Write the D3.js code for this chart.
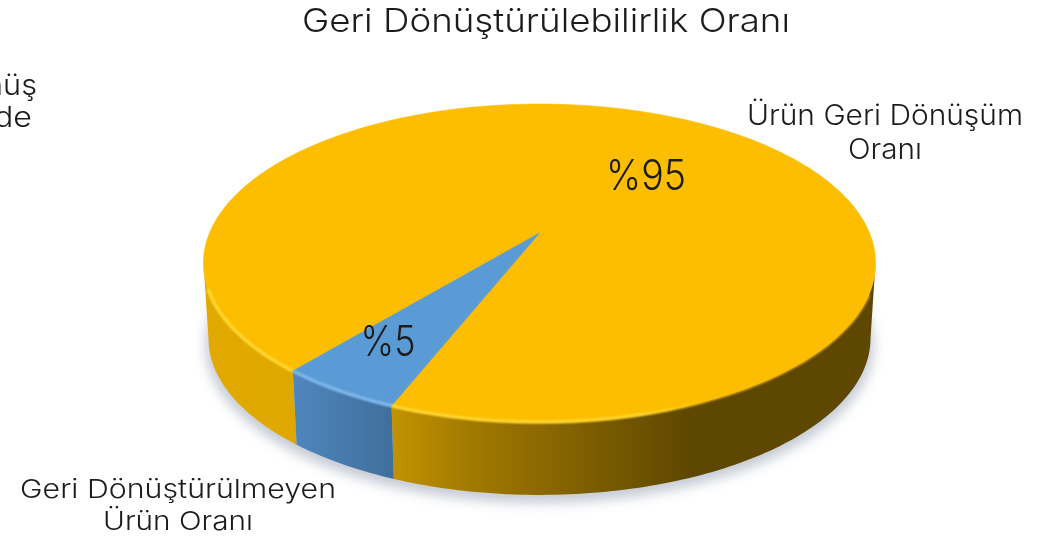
<!DOCTYPE html>
<html><head><meta charset="utf-8">
<script src="https://cdn.jsdelivr.net/npm/d3@7"></script>
<style>html,body{margin:0;padding:0;background:#fff;overflow:hidden}svg{display:block}
text{font-family:Inter,"Open Sans",sans-serif;font-weight:300;fill:#1c1c1c}</style>
</head><body><script>
const chartTitle = "Geri Dönüştürülebilirlik Oranı";
const categories = ["Ürün Geri Dönüşüm Oranı", "Geri Dönüştürülmeyen Ürün Oranı"];
const seriesValues = [95, 5];
const valueLabels = ["%95", "%5"];
const colors = ["#FDBD00", "#5B9BD5"];
const rimColors = ["#FFDC3C", "#86BDF0"];

const W = 1052, H = 536;
const svg = d3.select("body").append("svg").attr("width", W).attr("height", H);
const defs = svg.append("defs");
const toR = d => d * Math.PI / 180;

// Perspective projection of the pie's circular faces
const cx = 539.5, cy = 233, persp = 0.1887, ax = 330, ay = 153.3;
const projector = (s, yOff) => (t) => {
  const u = Math.sin(t), v = -Math.cos(t), k = 1 / (1 - persp * v);
  return [cx + s * ax * u * k, cy + yOff + s * ay * v * k];
};
const topFace = projector(1, 0), baseFace = projector(0.985, 75.8);
const arcPts = (f, a0, a1) => d3.range(0, 1.0001, 1 / Math.max(8, Math.ceil((a1 - a0) / toR(1))))
  .map(q => f(a0 + (a1 - a0) * q));
const line = d3.line();

const pie = d3.pie().sort(null).startAngle(toR(219.7)).endAngle(toR(219.7 + 360));
const arcs = pie(seriesValues);
const front0 = toR(100.9), front1 = toR(259.1);
const edge0 = toR(112), edge1 = toR(250);

// filters
const f1 = defs.append("filter").attr("id", "shadow").attr("x", "-10%").attr("y", "-10%").attr("width", "120%").attr("height", "120%");
f1.append("feGaussianBlur").attr("stdDeviation", 6);
const f2 = defs.append("filter").attr("id", "soft").attr("x", "-5%").attr("y", "-5%").attr("width", "110%").attr("height", "110%");
f2.append("feGaussianBlur").attr("stdDeviation", 1.1);

// side wall gradients
function wallGrad(id, stops) {
  const g = defs.append("linearGradient").attr("id", id).attr("gradientUnits", "userSpaceOnUse")
    .attr("x1", 203).attr("x2", 876).attr("y1", 0).attr("y2", 0);
  stops.forEach(s => g.append("stop").attr("offset", (s[0] - 203) / 673).attr("stop-color", s[1]));
}
wallGrad("wall0", [[203,"#E2AA00"],[295,"#DFA800"],[392,"#C29200"],[470,"#A27A00"],[560,"#866400"],[650,"#6A5000"],[690,"#5E4700"],[876,"#5E4700"]]);
wallGrad("wall1", [[295,"#4F86BC"],[392,"#3F6F9C"]]);
const rimFade = defs.append("linearGradient").attr("id", "rimFade").attr("gradientUnits", "userSpaceOnUse")
  .attr("x1", 203).attr("x2", 876).attr("y1", 0).attr("y2", 0);
[[0,1],[0.65,0.9],[0.75,0],[1,0]].forEach(s => rimFade.append("stop").attr("offset", s[0]).attr("stop-color", "#fff").attr("stop-opacity", s[1]));
defs.append("mask").attr("id", "rimMask").attr("maskUnits", "userSpaceOnUse").attr("x", 0).attr("y", 0).attr("width", W).attr("height", H)
  .append("rect").attr("width", W).attr("height", H).attr("fill", "url(#rimFade)");

// drop shadow
const shadowFace = projector(0.995, 82);
svg.append("path").attr("d", line(arcPts(shadowFace, 0, 2 * Math.PI)) + "Z")
  .attr("fill", "#AEB6C4").attr("opacity", 0.7).attr("filter", "url(#shadow)");

// side walls
const clipRanges = (d, lo, hi) => [-2 * Math.PI, 0].map(o => [Math.max(d.startAngle + o, lo), Math.min(d.endAngle + o, hi)]).filter(r => r[1] > r[0]);
arcs.forEach((d, i) => {
  clipRanges(d, front0, front1).forEach(r => {
    svg.append("path")
      .attr("d", line(arcPts(topFace, r[0], r[1]).concat(arcPts(baseFace, r[0], r[1]).reverse())) + "Z")
      .attr("fill", `url(#wall${i})`);
  });
});

// soft transition between top face and wall
arcs.forEach((d, i) => {
  clipRanges(d, edge0, edge1).forEach(r => {
    svg.append("path").attr("d", line(arcPts(topFace, r[0], r[1])))
      .attr("fill", "none").attr("stroke", colors[i]).attr("stroke-width", 2.4).attr("filter", "url(#soft)");
  });
});

// top face
const slicePts = d => [[cx, cy]].concat(arcPts(topFace, d.startAngle, d.endAngle));
arcs.forEach((d, i) => {
  svg.append("path").attr("d", line(slicePts(d)) + "Z").attr("fill", colors[i])
    .attr("stroke", colors[i]).attr("stroke-width", 0.6);
});

// lighter bevel along the front edge
const rim = svg.append("g").attr("mask", "url(#rimMask)");
arcs.forEach((d, i) => {
  clipRanges(d, edge0, edge1).forEach(r => {
    rim.append("path").attr("d", line(arcPts(topFace, r[0], r[1])))
      .attr("fill", "none").attr("stroke", rimColors[i]).attr("stroke-width", 2.8).attr("filter", "url(#soft)");
  });
});

// text: the glyphs are stretched to the reference's wider letterforms
const text = (t, x, y, size, width, anchor) => svg.append("text").attr("x", x).attr("y", y)
  .attr("font-size", size).attr("text-anchor", anchor || "middle")
  .attr("textLength", width).attr("lengthAdjust", "spacingAndGlyphs").text(t);

text(chartTitle, 546, 32, 33, 488);
text("Ürün Geri Dönüşüm", 885, 125, 28, 276);
text("Oranı", 885, 159, 28, 74);
text("Geri Dönüştürülmeyen", 178, 498, 26, 316);
text("Ürün Oranı", 178, 529.5, 26, 150);
text(valueLabels[0], 646, 190, 42, 80);
text(valueLabels[1], 388, 356, 42, 55);
text("nüş", 37, 95, 28, 52, "end");
text("de", 32, 127, 28, 38, "end");
</script></body></html>
